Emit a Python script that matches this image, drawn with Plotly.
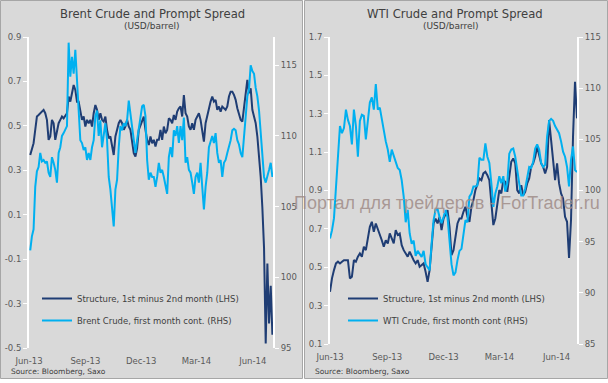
import pandas as pd
import plotly.graph_objects as go

# ---------------- data ----------------
brent_structure = [
    0.369, 0.392, 0.422, 0.482, 0.542, 0.549, 0.557, 0.564, 0.572, 0.557,
    0.527, 0.437, 0.452, 0.527, 0.512, 0.437, 0.482, 0.512, 0.527, 0.542,
    0.534, 0.549, 0.557, 0.632, 0.609, 0.647, 0.684, 0.662, 0.609, 0.609,
    0.564, 0.527, 0.542, 0.497, 0.527, 0.512, 0.527, 0.497, 0.557, 0.594,
    0.572, 0.527, 0.557, 0.527, 0.519, 0.542, 0.482, 0.444, 0.452, 0.407,
    0.369, 0.452, 0.482, 0.512, 0.527, 0.512, 0.482, 0.497, 0.527, 0.497,
    0.482, 0.437, 0.377, 0.362, 0.399, 0.482, 0.504, 0.527, 0.542, 0.482,
    0.437, 0.414,
    0.452, 0.422, 0.437, 0.407, 0.437, 0.437, 0.482, 0.437, 0.497, 0.467,
    0.482, 0.534, 0.527, 0.512, 0.549, 0.527, 0.564, 0.579, 0.587, 0.542,
    0.639, 0.557, 0.542, 0.497, 0.482, 0.512, 0.482, 0.527, 0.542, 0.557,
    0.527, 0.467, 0.429, 0.512, 0.549, 0.579, 0.609, 0.632, 0.609, 0.617,
    0.572, 0.587, 0.564, 0.587, 0.579, 0.572, 0.587, 0.632, 0.654, 0.654,
    0.639, 0.617, 0.579, 0.557, 0.527, 0.519, 0.587, 0.632, 0.707, 0.647,
    0.669, 0.572, 0.534, 0.512, 0.452, 0.362, 0.27, 0.13, -0.05, -0.48,
    -0.12, -0.39, -0.22, -0.44,
]
brent_price = [
    101.9, 102.9, 103.4, 106.4, 107.5, 107.8, 108.8, 108.2, 108.3, 108.1,
    108.2, 107.4, 107.1, 108.5, 108.1, 107.6, 106.7, 108.8, 109.2, 110.0,
    110.2, 110.4, 110.7, 116.6, 114.2, 115.6, 114.4, 116.1, 114.0, 111.6,
    109.7, 109.5, 109.0, 109.2, 108.3, 108.8, 108.3, 109.2, 109.7, 111.4,
    111.8, 110.0, 111.1, 109.2, 110.0, 110.9, 109.7, 107.1, 106.2, 105.0,
    103.6, 106.2, 106.9, 109.2, 110.7, 110.4, 110.9, 110.7, 111.1, 112.5,
    111.6, 110.7, 109.5, 108.8, 109.7, 110.4, 111.4, 112.1, 112.2, 111.4,
    108.3, 106.9,
    107.4, 107.1, 107.1, 106.4, 107.1, 108.1, 107.4, 107.6, 107.1, 106.4,
    105.9, 108.5, 109.2, 108.5, 110.4, 110.0, 110.7, 109.5, 110.7, 109.7,
    111.3, 108.1, 108.5, 107.6, 107.4, 106.7, 105.9, 107.1, 107.4, 106.7,
    108.1, 106.4, 104.8, 106.4, 107.4, 109.2, 109.7, 110.0, 109.5, 110.2,
    108.8, 108.1, 108.3, 107.1, 108.1, 108.3, 108.8, 109.2, 109.7, 110.4,
    110.5, 110.4, 109.7, 109.4, 108.8, 108.5, 110.0, 111.4, 112.8, 113.3,
    115.0, 114.6, 114.4, 113.4, 112.8, 111.8, 110.4, 109.0, 107.1, 106.7,
    107.1, 107.6, 108.1, 107.1,
]
wti_structure = [
    0.372, 0.442, 0.485, 0.520, 0.529, 0.520, 0.529, 0.537, 0.537, 0.537,
    0.442, 0.450, 0.537, 0.529, 0.555, 0.572, 0.555, 0.607, 0.589, 0.641,
    0.711, 0.737, 0.685, 0.728, 0.702, 0.676, 0.641, 0.607, 0.641, 0.624,
    0.676, 0.650, 0.624, 0.694, 0.668, 0.676, 0.615, 0.589, 0.572, 0.555,
    0.581, 0.555, 0.537, 0.520, 0.537, 0.503, 0.511, 0.520, 0.476, 0.424,
    0.485, 0.607, 0.728, 0.754, 0.728, 0.763, 0.694, 0.754, 0.780, 0.798,
    0.711, 0.563, 0.589, 0.659, 0.728, 0.754, 0.754, 0.789, 0.815, 0.763,
    0.737, 0.815, 0.850, 0.902, 0.937, 0.963, 0.954, 0.989, 0.998, 0.980,
    0.954, 0.815, 0.720, 0.754, 0.833, 0.902, 0.885, 0.954, 0.945, 0.893,
    0.972, 1.050, 1.067, 1.041, 0.902, 0.885, 0.928, 0.876, 0.893, 0.937,
    0.963, 1.024, 1.041, 1.076, 1.128, 1.076, 1.041, 1.024, 0.989, 1.024,
    1.267, 1.163, 1.058, 0.954, 1.041, 0.937, 0.885, 0.859, 0.763, 0.737,
    0.549, 0.746, 1.180, 1.467, 1.276,
]
wti_price = [
    95.3, 96.1, 97.3, 100.4, 103.2, 106.3, 105.6, 106.1, 107.9, 106.9,
    106.3, 104.5, 107.9, 106.3, 103.3, 106.8, 107.4, 107.3, 105.0, 106.6,
    108.6, 109.1, 107.9, 110.4, 107.9, 108.1, 106.9, 105.6, 104.8, 104.0,
    102.8, 104.0, 103.3, 102.8, 102.2, 102.0, 101.0, 99.4, 96.9, 98.1,
    95.8, 94.8, 95.1, 93.6, 94.1, 93.8, 93.5, 94.1, 92.8, 92.5,
    92.2, 94.8, 97.1, 98.1, 98.2, 97.4, 96.8, 97.4, 98.1, 97.4,
    94.8, 92.8, 91.7, 92.0, 93.2, 94.1, 94.3, 95.8, 97.1, 96.9,
    99.4, 99.7, 100.4, 100.4, 100.5, 103.2, 103.0, 103.0, 104.6, 103.3,
    102.7, 100.7, 98.4, 99.7, 100.4, 101.4, 100.7, 101.4, 99.9, 100.7,
    103.6, 104.0, 104.1, 103.3, 101.7, 100.7, 99.5, 99.5, 100.2, 101.2,
    102.3, 102.2, 102.8, 104.1, 104.5, 104.0, 102.7, 102.3, 102.5, 105.3,
    106.8, 107.0, 106.8, 106.3, 106.0, 105.6, 104.8, 103.8, 103.3, 102.3,
    100.4, 103.0, 104.3, 102.0, 101.8,
]

brent_first_date, brent_last_date = "2013-06-22", "2014-07-22"
wti_first_date, wti_last_date = "2013-06-20", "2014-07-23"
axis_start, axis_end = "2013-06-20", "2014-07-23"

x_tick_dates = ["2013-06-20", "2013-09-20", "2013-12-20", "2014-03-20", "2014-06-20"]
x_tick_labels = ["Jun-13", "Sep-13", "Dec-13", "Mar-14", "Jun-14"]

brent_lhs_ticks = [-0.5, -0.3, -0.1, 0.1, 0.3, 0.5, 0.7, 0.9]
brent_lhs_labels = ["-0.5", "-0.3", "-0.1", "0.1", "0.3", "0.5", "0.7", "0.9"]
brent_rhs_ticks = [95, 100, 105, 110, 115]
wti_lhs_ticks = [0.1, 0.3, 0.5, 0.7, 0.9, 1.1, 1.3, 1.5, 1.7]
wti_lhs_labels = ["0.1", "0.3", "0.5", "0.7", "0.9", "1.1", "1.3", "1.5", "1.7"]
wti_rhs_ticks = [85, 90, 95, 100, 105, 110, 115]

# ---------------- styling ----------------
W, H = 608, 383
NAVY = "#1F3D74"
LIGHT = "#00B0F0"
PANEL = "#D9D9D9"
BORDER = "#A6A6A6"
TXT = "#404040"
TICK = "#595959"
FONT = "DejaVu Sans"


def px(x):
    return x / W


def py(y):
    return 1 - y / H


def dates(a, b, n):
    return pd.date_range(a, b, periods=n)


fig = go.Figure()

fig.add_trace(go.Scatter(
    x=dates(brent_first_date, brent_last_date, len(brent_structure)), y=brent_structure,
    mode="lines", line=dict(color=NAVY, width=2), name="Structure, 1st minus 2nd month (LHS)",
    xaxis="x", yaxis="y", legend="legend", legendgroup="a", legendrank=1))
fig.add_trace(go.Scatter(
    x=dates(brent_first_date, brent_last_date, len(brent_price)), y=brent_price,
    mode="lines", line=dict(color=LIGHT, width=2), name="Brent Crude, first month cont. (RHS)",
    xaxis="x", yaxis="y2", legend="legend", legendgroup="b", legendrank=2))
fig.add_trace(go.Scatter(
    x=dates(wti_first_date, wti_last_date, len(wti_structure)), y=wti_structure,
    mode="lines", line=dict(color=NAVY, width=2), name="Structure, 1st minus 2nd month (LHS)",
    xaxis="x2", yaxis="y3", legend="legend2", legendgroup="c", legendrank=1))
fig.add_trace(go.Scatter(
    x=dates(wti_first_date, wti_last_date, len(wti_price)), y=wti_price,
    mode="lines", line=dict(color=LIGHT, width=2), name="WTI Crude, first month cont (RHS)",
    xaxis="x2", yaxis="y4", legend="legend2", legendgroup="d", legendrank=2))

tickfont = dict(family=FONT, size=8.5, color=TICK)

xcommon = dict(type="date", range=[axis_start, axis_end], showgrid=False, zeroline=False,
               showline=False, ticks="", tickvals=x_tick_dates, ticktext=x_tick_labels,
               tickfont=tickfont, ticklabelstandoff=6, automargin=False)
ycommon = dict(showgrid=False, zeroline=False, showline=True, linecolor="white", linewidth=2,
               ticks="outside", ticklen=4, tickcolor="white", tickwidth=1, tickfont=tickfont,
               automargin=False)

L_dom_x = [px(29), px(273)]
L_dom_y = [py(348), py(37)]
R_dom_x = [px(330), px(577)]
R_dom_y = [py(344), py(37)]

legend_common = dict(xanchor="left", yanchor="top", bgcolor="rgba(0,0,0,0)",
                     font=dict(family=FONT, size=8.5, color=TXT), tracegroupgap=3,
                     traceorder="grouped", itemclick=False, itemdoubleclick=False)

fig.update_layout(
    template="none",
    width=W, height=H, margin=dict(l=0, r=0, t=0, b=0, pad=0), autosize=False,
    paper_bgcolor="white", plot_bgcolor="rgba(0,0,0,0)",
    showlegend=True, hovermode=False,
    xaxis=dict(domain=L_dom_x, anchor="y", **xcommon),
    yaxis=dict(domain=L_dom_y, anchor="x", range=[-0.5, 0.9], tickvals=brent_lhs_ticks,
               ticktext=brent_lhs_labels, **ycommon),
    yaxis2=dict(overlaying="y", side="right", anchor="x", range=[95, 117],
                tickvals=brent_rhs_ticks, **ycommon),
    xaxis2=dict(domain=R_dom_x, anchor="y3", **xcommon),
    yaxis3=dict(domain=R_dom_y, anchor="x2", range=[0.1, 1.7], tickvals=wti_lhs_ticks,
                ticktext=wti_lhs_labels, **ycommon),
    yaxis4=dict(overlaying="y3", side="right", anchor="x2", range=[85, 115],
                tickvals=wti_rhs_ticks, **ycommon),
    legend=dict(x=px(37), y=py(284), **legend_common),
    legend2=dict(x=px(343), y=py(284), **legend_common),
)

# panel backgrounds
fig.add_shape(type="rect", xref="paper", yref="paper", x0=px(0.5), x1=px(302.5), y0=py(378.5),
              y1=py(0.5), fillcolor=PANEL, line=dict(color=BORDER, width=1), layer="below")
fig.add_shape(type="rect", xref="paper", yref="paper", x0=px(304.5), x1=px(607.5), y0=py(378.5),
              y1=py(0.5), fillcolor=PANEL, line=dict(color=BORDER, width=1), layer="below")

ann = []
ann.append(dict(text="Brent Crude and Prompt Spread", x=px(152), y=py(14),
                font=dict(family=FONT, size=11.6, color=TXT)))
ann.append(dict(text="(USD/barrel)", x=px(152), y=py(26), font=dict(family=FONT, size=9, color=TXT)))
ann.append(dict(text="WTI Crude and Prompt Spread", x=px(455), y=py(14),
                font=dict(family=FONT, size=11.6, color=TXT)))
ann.append(dict(text="(USD/barrel)", x=px(451), y=py(26), font=dict(family=FONT, size=9, color=TXT)))
for a in ann:
    a.update(xref="paper", yref="paper", showarrow=False, xanchor="center", yanchor="middle")
src = []
for x0 in (9, 313):
    src.append(dict(text="Source: Bloomberg, Saxo", x=px(x0), y=py(371), xref="paper", yref="paper",
                    showarrow=False, xanchor="left", yanchor="middle",
                    font=dict(family=FONT, size=7.5, color=TXT)))
wm = dict(text="Портал для трейдеров - ForTrader.ru", x=px(447), y=py(203), xref="paper", yref="paper",
          showarrow=False, xanchor="center", yanchor="middle",
          font=dict(family="Liberation Sans", size=18, color="rgba(160,140,136,0.85)"))
fig.update_layout(annotations=ann + src + [wm])

fig.write_html("out.html", config={"displayModeBar": False, "staticPlot": True},
               post_script="document.body.style.margin='0px';")
